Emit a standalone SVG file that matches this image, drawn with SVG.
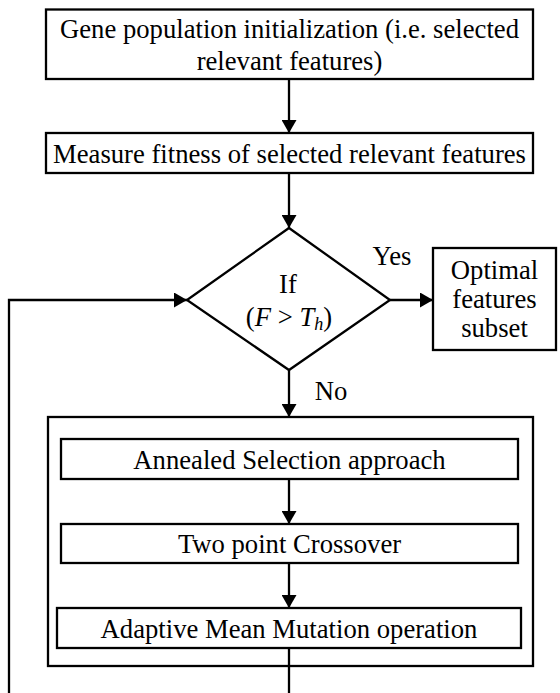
<svg xmlns="http://www.w3.org/2000/svg" width="560" height="693" viewBox="0 0 560 693" font-family="'Liberation Serif', Tinos, 'DejaVu Serif', serif">
<defs>
<style>
.box{fill:#fff;stroke:#000;stroke-width:2.3}
.ln{fill:none;stroke:#000;stroke-width:2.3}
text{font-family:'Liberation Serif',Tinos,'DejaVu Serif',serif;font-size:26.67px;fill:#000;text-anchor:middle}
.it{font-style:italic}
</style>
<marker id="ah" markerUnits="userSpaceOnUse" markerWidth="14" markerHeight="15" refX="13" refY="7.5" orient="auto">
<path d="M0,0 L13,7.5 L0,15 z" fill="#000"/>
</marker>
</defs>
<rect width="560" height="693" fill="#fff"/>
<g id="init">
<rect class="box" x="46" y="9.5" width="487" height="69.5"/>
<text x="289.5" y="38">Gene population initialization (i.e. selected</text>
<text x="289.5" y="70">relevant features)</text>
</g>
<g id="fitness">
<rect class="box" x="46" y="133" width="487" height="40"/>
<text x="289.5" y="163">Measure fitness of selected relevant features</text>
</g>
<g id="decision">
<polygon class="box" points="289,228 390,300 289,370 187,300"/>
<text x="288" y="293">If</text>
<text x="289" y="326">(<tspan class="it">F</tspan> &gt; <tspan class="it">T</tspan><tspan class="it" font-size="18" dy="4">h</tspan><tspan dy="-4">)</tspan></text>
</g>
<g id="optimal">
<rect class="box" x="433" y="248" width="123" height="102"/>
<text x="494.5" y="279">Optimal</text>
<text x="494.5" y="308">features</text>
<text x="494.5" y="337">subset</text>
</g>
<g id="ga-block">
<rect class="box" x="48" y="417" width="485" height="249"/>
</g>
<g id="annealed">
<rect class="box" x="61" y="439" width="457" height="40"/>
<text x="289.5" y="469">Annealed Selection approach</text>
</g>
<g id="crossover">
<rect class="box" x="61" y="524" width="457" height="39"/>
<text x="289.5" y="553">Two point Crossover</text>
</g>
<g id="mutation">
<rect class="box" x="57" y="608" width="464" height="40"/>
<text x="289" y="638">Adaptive Mean Mutation operation</text>
</g>
<g id="connectors">
<line class="ln" x1="289" y1="79" x2="289" y2="133" marker-end="url(#ah)"/>
<line class="ln" x1="289" y1="173" x2="289" y2="228" marker-end="url(#ah)"/>
<line class="ln" x1="390" y1="300" x2="433" y2="300" marker-end="url(#ah)"/>
<line class="ln" x1="289" y1="370" x2="289" y2="417" marker-end="url(#ah)"/>
<line class="ln" x1="289" y1="479" x2="289" y2="524" marker-end="url(#ah)"/>
<line class="ln" x1="289" y1="563" x2="289" y2="608" marker-end="url(#ah)"/>
<line class="ln" x1="289" y1="648" x2="289" y2="693"/>
<polyline class="ln" points="9,693 9,300 187,300" marker-end="url(#ah)"/>
<text x="392" y="265">Yes</text>
<text x="331" y="400">No</text>
</g>
</svg>
